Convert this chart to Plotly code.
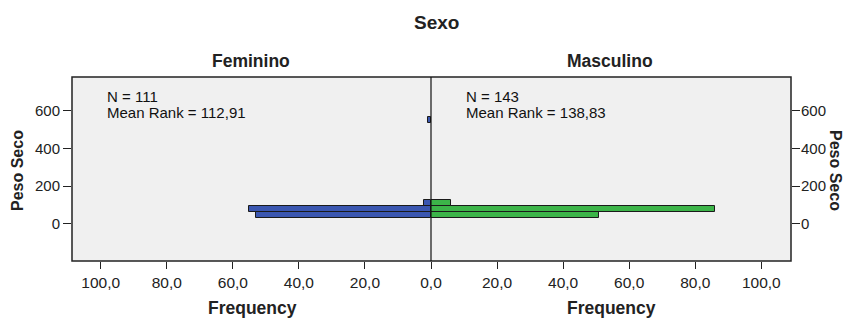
import plotly.graph_objects as go
from plotly.subplots import make_subplots

# Data
bin_centers = [48, 79.5, 111, 551]
bin_width = 31.5
feminino = [53, 55, 2, 1]
masculino = [51, 86, 6, 0]
x_tickvals = [0, 20, 40, 60, 80, 100]
x_ticktext = ["0,0", "20,0", "40,0", "60,0", "80,0", "100,0"]
x_ticktext_left = [""] + x_ticktext[1:]
y_tickvals = [0, 200, 400, 600]
stats_fem = ["N = 111", "Mean Rank = 112,91"]
stats_masc = ["N = 143", "Mean Rank = 138,83"]

W, H = 847, 320
L, R, T, B = 72, 56, 77, 59
split = (431 - L) / (W - L - R)

fig = make_subplots(rows=1, cols=2, horizontal_spacing=0)
fig.update_layout(xaxis=dict(domain=[0, split]), xaxis2=dict(domain=[split, 1]))

line_col = "#222222"
fig.add_trace(go.Bar(y=bin_centers, x=feminino, orientation="h", width=bin_width,
                     marker=dict(color="#3a56b0", line=dict(color="#1a1a1a", width=1)),
                     showlegend=False), row=1, col=1)
fig.add_trace(go.Bar(y=bin_centers, x=masculino, orientation="h", width=bin_width,
                     marker=dict(color="#3cb449", line=dict(color="#1a1a1a", width=1)),
                     showlegend=False), row=1, col=2)

font_fam = "Liberation Sans, Arial, sans-serif"
xtickfont = dict(family=font_fam, size=15.5, color="#222")
ytickfont = dict(family=font_fam, size=15, color="#222")
xcommon = dict(tickvals=x_tickvals, ticks="outside", ticklen=7, automargin=False,
               tickcolor=line_col, showline=False, showgrid=False, zeroline=False,
               tickfont=xtickfont)
fig.update_xaxes(range=[108.7, 0], ticktext=x_ticktext_left, **xcommon, row=1, col=1)
fig.update_xaxes(range=[0, 109], ticktext=x_ticktext, **xcommon, row=1, col=2)

ycommon = dict(range=[-199, 781], tickvals=y_tickvals, ticks="outside", ticklen=8,
               automargin=False, tickcolor=line_col, showline=False, showgrid=False,
               zeroline=False, tickfont=ytickfont)
fig.update_yaxes(**ycommon, row=1, col=1)
fig.update_yaxes(**ycommon, ticklabelstandoff=-2, row=1, col=2)
fig.update_layout(yaxis2=dict(showticklabels=True, side="right"))

pw = W - L - R
ph = H - T - B
def px(x):
    return (x - L) / pw
def py(y):
    return 1 - (y - T) / ph

annots = []
def title_ann(text, x, y, size=14, angle=0):
    return dict(text=f"<b>{text}</b>", x=px(x), y=py(y), xref="paper", yref="paper",
                xanchor="center", yanchor="middle", showarrow=False, textangle=angle,
                font=dict(family=font_fam, size=size, color="#222"))
def stat_ann(text, x, y):
    return dict(text=text, x=px(x), y=py(y), xref="paper", yref="paper",
                xanchor="left", yanchor="middle", align="left", showarrow=False,
                font=dict(family=font_fam, size=15, color="#111"))
annots.append(title_ann("Sexo", 437, 22, size=19))
annots.append(title_ann("Feminino", 251, 61, size=17.5))
annots.append(title_ann("Masculino", 610, 61, size=17.5))
annots.append(title_ann("Frequency", 252, 308, size=17.5))
annots.append(title_ann("Frequency", 611, 308, size=17.5))
annots.append(title_ann("Peso Seco", 17, 171, size=16, angle=-90))
annots.append(title_ann("Peso Seco", 836, 170, size=16, angle=90))
annots.append(stat_ann(stats_fem[0], 105, 96.5))
annots.append(stat_ann(stats_fem[1], 105, 112.5))
annots.append(stat_ann(stats_masc[0], 464, 96.5))
annots.append(stat_ann(stats_masc[1], 464, 112.5))

shapes = [
    dict(type="rect", xref="paper", yref="paper", x0=0, x1=1, y0=0, y1=1,
         line=dict(color=line_col, width=1.5)),
    dict(type="line", xref="paper", yref="paper", x0=split, x1=split, y0=0, y1=1,
         line=dict(color="#111", width=1.2)),
]

fig.update_layout(width=W, height=H, margin=dict(l=L, r=R, t=T, b=B),
                  paper_bgcolor="white", plot_bgcolor="#f0f0f0",
                  bargap=0, annotations=annots, shapes=shapes)

fig.write_html("out.html", config={"displayModeBar": False},
               post_script="document.body.style.margin='0';document.body.style.overflow='hidden';")
